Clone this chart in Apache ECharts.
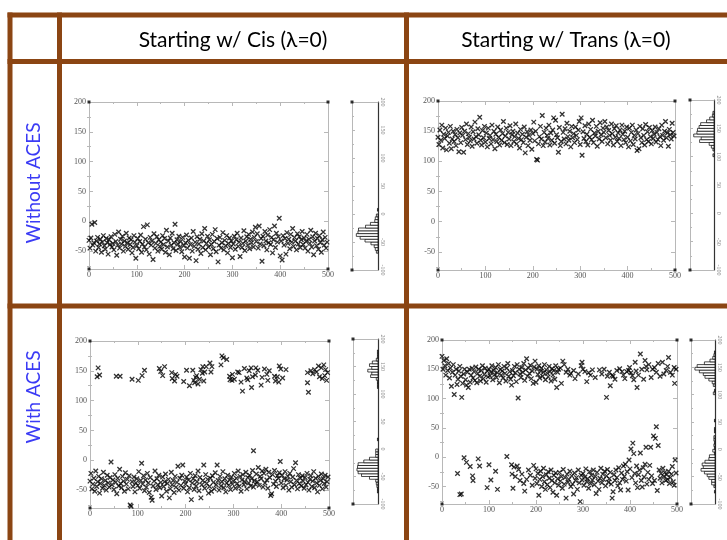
<!DOCTYPE html>
<html>
<head>
<meta charset="utf-8">
<script src="https://cdn.jsdelivr.net/npm/echarts@6/dist/echarts.min.js"></script>
<style>
  html, body { margin: 0; padding: 0; background: #fff; }
  #chart { width: 727px; height: 540px; }
</style>
</head>
<body>
<div id="chart"></div>
<script>
// column / row headers
const colTitles = ['Starting w/ Cis (\u03bb=0)', 'Starting w/ Trans (\u03bb=0)'];
const rowTitles = ['Without ACES', 'With ACES'];

// axis ticks
const xTicks = [0, 100, 200, 300, 400, 500];
const yLabelVals = [-50, 0, 50, 100, 150, 200];
const yMajorTicks = [-50, 0, 50, 100, 150, 200];
const yMinorTicks = [-75, -25, 25, 75, 125, 175];
const histLabelVals = [-100, -50, 0, 50, 100, 150, 200];

// frames are sampled every 2 steps in the dense runs
const FRAME_STEP = 2;

// Cis, no ACES (frames 0..498)
const cisNoAces = [
  -32,-45,-28,-5,-40,-36,-2,-50,-33,-27,-44,-38,-30,-52,-35,-24,-41,-47,-29,-36,-55,-31,-39,-26,-43,
  -37,-48,-22,-34,-57,-40,-18,-45,-30,-38,-25,-50,-33,-42,-20,-36,-47,-28,-39,-31,-53,-44,-24,-35,-62,
  -41,-29,-46,-34,-23,-52,-38,-9,-43,-30,-48,-6,-36,-55,-27,-40,-33,-64,-21,-45,-37,-26,-50,-31,-42,
  -35,-47,-24,-39,-29,-52,-15,-43,-33,-56,-28,-40,-20,-46,-36,-5,-49,-31,-38,-25,-44,-34,-51,-27,-41,
  -60,-36,-23,-45,-32,-62,-39,-28,-50,-17,-42,-35,-66,-26,-47,-38,-30,-54,-21,-44,-33,-12,-48,-37,-25,
  -43,-31,-56,-39,-22,-46,-34,-14,-51,-29,-68,-40,-27,-45,-36,-19,-48,-32,-41,-24,-53,-37,-28,-44,-33,
  -61,-38,-25,-47,-31,-20,-42,-35,-59,-28,-44,-37,-16,-49,-33,-26,-40,-22,-46,-30,-36,-18,-43,-27,-10,
  -34,-21,-45,-8,-38,-29,-67,-25,-41,-17,-33,-48,-23,-36,-14,-39,-27,-53,-31,-8,-44,-20,-35,-26,5,
  -58,-33,-65,-24,-40,-29,-55,-19,-37,-30,-46,-22,-35,-12,-42,-27,-33,-48,-21,-38,-26,-44,-31,-17,-39,
  -28,-45,-34,-22,-50,-30,-37,-15,-43,-26,-56,-33,-20,-41,-29,-47,-24,-36,-52,-31,-18,-40,-27,-45,-35
];

// Trans, no ACES (frames 0..498)
const transNoAces = [
  140,128,152,135,160,122,145,138,155,119,142,148,130,158,121,137,150,133,144,126,153,139,116,147,131,
  156,143,115,150,136,162,128,146,140,134,157,125,149,137,165,141,130,154,144,173,135,127,151,139,158,
  132,147,124,155,138,143,129,160,136,150,121,145,133,157,140,127,152,135,146,166,131,142,155,128,148,
  137,159,126,144,150,133,141,162,129,147,138,122,153,136,145,131,157,114,140,149,126,143,135,152,120,
  146,165,134,150,103,102,129,141,158,137,176,126,148,132,155,143,138,160,127,147,135,152,172,130,168,
  144,139,115,156,126,133,178,148,137,154,129,163,141,135,150,124,158,139,146,131,157,143,136,152,166,
  128,172,110,149,138,159,133,145,127,162,140,153,136,168,131,147,142,158,125,150,137,164,144,133,155,
  148,166,139,157,129,151,143,135,162,146,127,154,140,159,133,147,138,152,126,160,145,136,150,131,157,
  140,124,155,134,148,160,128,143,137,152,118,146,121,158,139,131,154,143,127,161,136,149,133,156,141,
  129,151,138,145,157,132,148,136,154,141,126,160,143,135,150,166,139,147,125,153,144,137,163,148,142
];

// Cis, with ACES: low state (frames 0..498) and visits to the high state [frame, value]
const cisAcesLow = [
  -35,-22,-48,-40,-30,-52,-18,-44,-36,-27,-55,-39,-31,-47,-20,-42,-34,-50,-25,-38,-45,-29,-3,-41,-33,
  -49,-24,-37,-56,-30,-43,-15,-39,-46,-27,-35,-52,-21,-40,-32,-48,-26,-75,-77,-36,-44,-28,-53,-38,-31,
  -42,-19,-47,-34,-5,-40,-26,-51,-33,-45,-22,-38,-54,-29,-62,-67,-43,-35,-18,-49,-31,-41,-25,-46,-37,
  -60,-28,-44,-36,-23,-52,-39,-32,-63,-48,-20,-41,-34,-54,-27,-45,-37,-10,-50,-30,-42,-25,-8,-47,-35,
  -40,-28,-53,-33,-46,-22,-66,-38,-31,-49,-26,-43,-36,-18,-51,-29,-63,-41,-34,-8,-47,-24,-39,-32,-55,
  -44,-30,-52,-26,-37,-48,-21,-41,-8,-34,-50,-27,-43,-36,-19,-46,-31,-53,-38,-25,-42,-33,-49,-28,-40,
  -35,-22,-47,-30,-39,-18,-44,-27,-52,-33,-24,-41,-36,-20,-48,-29,-38,-25,-43,-31,-17,-45,-34,-40,-23,
  -36,-12,-42,-27,-31,-18,-45,-22,-38,-15,-33,-47,-20,-29,-59,-56,-24,-40,-17,-35,-44,-26,-30,-21,-2,
  -38,-25,-46,-31,-19,-42,-33,-27,-50,-22,-36,-45,-28,-14,-41,-4,-34,-48,-24,-39,-30,-43,-26,-35,-47,
  -29,-41,-22,-37,-50,-32,-26,-44,-35,-19,-46,-30,-38,-53,-27,-42,-34,-23,-48,-31,-39,-25,-45,-36,-28
];
const cisAcesHigh = [
  [15,140],[17,155],[20,143],[55,141],[63,141],[88,136],[101,134],[109,142],[114,151],[145,154],
  [148,149],[152,142],[156,157],[171,147],[172,137],[177,133],[179,144],[182,141],[196,132],[202,151],
  [208,125],[215,151],[217,134],[219,130],[221,139],[223,142],[226,128],[229,136],[232,152],[235,146],
  [236,157],[238,133],[240,148],[243,157],[251,163],[253,148],[255,157],[274,160],[276,175],[279,172],
  [286,169],[292,141],[293,135],[297,134],[298,144],[302,136],[309,148],[312,147],[316,131],[319,116],
  [323,154],[328,138],[330,135],[333,150],[337,155],[338,122],[340,140],[342,16],[346,143],[347,155],
  [351,151],[358,126],[360,139],[365,153],[370,144],[372,134],[375,150],[386,141],[388,133],[392,140],
  [395,131],[396,158],[399,153],[403,138],[410,152],[455,147],[455,130],[457,114],[462,150],[466,145],
  [470,152],[474,148],[478,158],[480,140],[484,155],[486,137],[489,160],[491,142],[493,152],[495,134],
  [497,147]
];

// Trans, with ACES
const transAcesHighEarly = [ // frames 0..248
  172,150,165,156,140,168,148,160,135,152,121,145,158,107,140,150,124,133,147,155,138,102,126,142,150,
  132,123,145,119,150,128,140,152,135,146,131,154,127,143,150,138,130,148,156,134,141,152,128,147,137,
  150,139,145,156,132,148,141,153,136,144,158,127,150,140,147,135,155,143,130,152,160,138,146,133,123,
  148,139,155,144,129,158,101,150,142,136,153,145,160,131,149,168,138,152,143,157,134,147,126,154,164,
  128,150,141,156,135,147,152,138,145,158,132,149,143,137,155,146,130,151,140,148,133,156,119,145,150
];
const transAcesHighLate = [
  [252,152],[254,126],[257,164],[260,158],[264,145],[268,150],[272,140],[274,143],[280,148],[283,134],
  [290,142],[296,156],[298,162],[300,150],[304,146],[308,129],[312,144],[316,140],[320,149],[326,136],
  [335,149],[340,142],[345,150],[350,102],[352,138],[356,145],[358,122],[362,140],[364,138],[368,133],
  [372,148],[378,151],[383,146],[386,140],[389,134],[393,146],[397,148],[399,153],[402,144],[405,139],
  [408,132],[411,162],[413,147],[415,119],[418,140],[422,176],[425,150],[429,133],[432,165],[434,155],
  [436,149],[440,158],[445,136],[448,150],[452,153],[456,145],[460,160],[464,138],[469,162],[472,142],
  [477,148],[480,155],[482,170],[486,145],[490,140],[494,153],[495,126],[498,150]
];
const transAcesLowEarly = [
  [33,-28],[38,-64],[41,-63],[47,-1],[52,-9],[60,-16],[65,-32],[66,-40],[77,-3],[80,-15],
  [96,-52],[100,-13],[104,-39],[114,-24],[118,-55],[138,1],[148,-13],[149,-29],[151,-53],[153,-17],
  [156,-33],[160,-15],[163,-21],[166,-40],[170,-29],[174,-45],[176,-58],[180,-38],[184,-22],[188,-31],
  [192,-48],[195,-14],[198,-36]
];
const transAcesLowLate = [ // frames 200..498
  -20,-45,-28,-65,-38,-24,-50,-33,-19,-42,-55,-30,-47,-25,-36,-52,-22,-40,-60,-31,-44,-27,-65,-37,-48,
  -26,-41,-33,-53,-21,-46,-35,-70,-29,-43,-38,-24,-50,-32,-46,-63,-27,-40,-35,-55,-22,-44,-76,-31,-39,
  -28,-48,-34,-20,-42,-37,-53,-25,-45,-31,-39,-22,-47,-33,-62,-26,-41,-55,-36,-19,-44,-29,-38,-24,-49,
  -32,-21,-43,-37,-26,-46,-70,-59,-30,-40,-22,-35,-49,-18,-44,-56,-27,-38,-15,-33,-12,-41,-25,-56,-5,
  -20,14,-35,24,6,-28,-44,-15,-52,-30,-22,7,-40,-51,-18,-34,-12,17,-46,-26,-38,-14,17,-32,-45,
  36,-40,32,52,-57,20,-22,-36,-28,-44,-19,-33,-26,-40,-30,-38,-24,-45,-35,-29,-16,-42,-48,-5,-27
];

// corner marks drawn by the plotting program
const plotCorners = [[0, 200], [0, -80], [500, 200], [500, -80]];

const BROWN = '#8b4513';
const AXIS_GRAY = '#b8b8b8';
const LABEL_GRAY = '#555';
const BIN = 5, HIST_MIN = -100, HIST_MAX = 200;

function framePoints(start, ys) {
  return ys.map((y, i) => [start + i * FRAME_STEP, y]);
}
function binCounts(points) {
  const counts = new Array((HIST_MAX - HIST_MIN) / BIN).fill(0);
  points.forEach(p => {
    const k = Math.floor((p[1] - HIST_MIN) / BIN);
    if (k >= 0 && k < counts.length) counts[k]++;
  });
  return counts;
}

const grids = [], xAxes = [], yAxes = [], series = [];

function scatterPanel(box, points) {
  const gi = grids.length;
  grids.push({ left: box[0], top: box[1], width: box[2], height: box[3] });
  const xi = xAxes.length, yi = yAxes.length;
  const line = { onZero: false, lineStyle: { color: AXIS_GRAY, width: 1 } };
  const xBase = {
    type: 'value', gridIndex: gi, min: 0, max: 500, interval: 100,
    splitLine: { show: false }, axisLine: line,
    axisTick: { inside: true, length: 4, lineStyle: { color: AXIS_GRAY } },
    minorTick: { show: true, splitNumber: 2, length: 2, lineStyle: { color: AXIS_GRAY } }
  };
  xAxes.push(Object.assign({}, xBase, {
    position: 'bottom',
    axisLabel: { fontFamily: 'Liberation Serif', fontSize: 8, color: LABEL_GRAY, margin: 2, customValues: xTicks }
  }));
  xAxes.push(Object.assign({}, xBase, { position: 'top', axisLabel: { show: false } }));
  const yBase = {
    type: 'value', gridIndex: gi, min: -80, max: 200,
    splitLine: { show: false }, axisLine: line,
    axisTick: { inside: true, length: 4, customValues: yMajorTicks, lineStyle: { color: AXIS_GRAY } }
  };
  yAxes.push(Object.assign({}, yBase, {
    position: 'left',
    axisLabel: { fontFamily: 'Liberation Serif', fontSize: 8, color: LABEL_GRAY, margin: 3, customValues: yLabelVals }
  }));
  yAxes.push(Object.assign({}, yBase, { position: 'right', axisLabel: { show: false } }));
  // short minor ticks on both sides
  ['left', 'right'].forEach(pos => yAxes.push({
    type: 'value', gridIndex: gi, min: -80, max: 200, position: pos,
    splitLine: { show: false }, axisLine: { show: false }, axisLabel: { show: false },
    axisTick: { inside: true, length: 2, customValues: yMinorTicks, lineStyle: { color: AXIS_GRAY } }
  }));

  series.push({
    type: 'scatter', xAxisIndex: xi, yAxisIndex: yi, data: points,
    symbol: 'path://M0 0L10 10M10 0L0 10', symbolSize: 4.5,
    itemStyle: { color: 'transparent', borderColor: '#000', borderWidth: 1.3 },
    silent: true, animation: false
  });
  series.push({
    type: 'scatter', xAxisIndex: xi, yAxisIndex: yi, data: plotCorners,
    symbol: 'rect', symbolSize: 3, itemStyle: { color: '#000' }, clip: false, animation: false
  });
}

function histPanel(box, points) {
  const counts = binCounts(points);
  const xMax = Math.ceil(Math.max.apply(null, counts) / 0.85);
  const gi = grids.length;
  grids.push({ left: box[0], top: box[1], width: box[2], height: box[3] });
  const xi = xAxes.length, yi = yAxes.length;
  const grayLine = { onZero: false, lineStyle: { color: AXIS_GRAY, width: 1 } };
  ['bottom', 'top'].forEach(pos => xAxes.push({
    type: 'value', gridIndex: gi, position: pos, min: 0, max: xMax, inverse: true,
    splitLine: { show: false }, axisLine: grayLine, axisTick: { show: false }, axisLabel: { show: false }
  }));
  yAxes.push({
    type: 'value', gridIndex: gi, position: 'left', min: HIST_MIN, max: HIST_MAX, interval: 50,
    splitLine: { show: false }, axisLine: grayLine,
    axisTick: { inside: true, length: 3, lineStyle: { color: AXIS_GRAY } },
    minorTick: { show: true, splitNumber: 2, length: 2, lineStyle: { color: AXIS_GRAY } },
    axisLabel: { show: false }
  });
  yAxes.push({
    type: 'value', gridIndex: gi, position: 'right', min: HIST_MIN, max: HIST_MAX, interval: 50,
    splitLine: { show: false },
    axisLine: { onZero: false, lineStyle: { color: '#333', width: 1.2 } },
    axisTick: { show: false },
    axisLabel: { rotate: -90, fontFamily: 'Liberation Serif', fontSize: 6, color: '#888', margin: 2, customValues: histLabelVals }
  });
  series.push({
    type: 'custom', xAxisIndex: xi, yAxisIndex: yi, animation: false, silent: true,
    data: counts.map((c, i) => [c, HIST_MIN + i * BIN]),
    renderItem: function (params, api) {
      const c = api.value(0), lo = api.value(1);
      if (!c) return null;
      const a = api.coord([0, lo + BIN]);
      const b = api.coord([c, lo]);
      return {
        type: 'rect',
        shape: { x: b[0], y: a[1], width: a[0] - b[0], height: b[1] - a[1] },
        style: { fill: '#fff', stroke: '#000', lineWidth: 0.7 }
      };
    }
  });
  series.push({
    type: 'scatter', xAxisIndex: xi, yAxisIndex: yi, data: [[xMax, HIST_MAX], [xMax, HIST_MIN]],
    symbol: 'rect', symbolSize: 3, itemStyle: { color: '#000' }, clip: false, animation: false
  });
}

const p1 = framePoints(0, cisNoAces);
const p2 = framePoints(0, transNoAces);
const p3 = framePoints(0, cisAcesLow).concat(cisAcesHigh);
const p4 = framePoints(0, transAcesHighEarly).concat(transAcesHighLate, transAcesLowEarly, framePoints(200, transAcesLowLate));

scatterPanel([89, 102, 239, 167], p1);
histPanel([352, 102, 26, 168], p1);
scatterPanel([438, 101, 237, 169], p2);
histPanel([690, 100, 24, 170], p2);
scatterPanel([90, 341, 239, 167], p3);
histPanel([353, 339, 25, 165], p3);
scatterPanel([442, 340, 235, 164], p4);
histPanel([691, 340, 24, 164], p4);

function rule(x1, y1, x2, y2) {
  return { type: 'line', shape: { x1: x1, y1: y1, x2: x2, y2: y2 }, style: { stroke: BROWN, lineWidth: 5 }, silent: true };
}
const graphic = [
  rule(7.5, 15, 727, 15),
  rule(7.5, 61.5, 727, 61.5),
  rule(7.5, 306, 727, 306),
  rule(10, 12.5, 10, 540),
  rule(59.5, 12.5, 59.5, 540),
  rule(406.5, 12.5, 406.5, 540),
  { type: 'text', x: 233, y: 40, style: { text: colTitles[0], fill: '#000', font: '21px Lato', textAlign: 'center', textVerticalAlign: 'middle' } },
  { type: 'text', x: 566, y: 40, style: { text: colTitles[1], fill: '#000', font: '21px Lato', textAlign: 'center', textVerticalAlign: 'middle' } },
  { type: 'text', x: 34, y: 183, rotation: Math.PI / 2, style: { text: rowTitles[0], fill: '#3b3bf5', font: '19px Lato', textAlign: 'center', textVerticalAlign: 'middle' } },
  { type: 'text', x: 34, y: 397, rotation: Math.PI / 2, style: { text: rowTitles[1], fill: '#3b3bf5', font: '19px Lato', textAlign: 'center', textVerticalAlign: 'middle' } }
];

const chart = echarts.init(document.getElementById('chart'));
chart.setOption({
  animation: false,
  backgroundColor: '#fff',
  grid: grids,
  xAxis: xAxes,
  yAxis: yAxes,
  series: series,
  graphic: graphic
});
</script>
</body>
</html>
